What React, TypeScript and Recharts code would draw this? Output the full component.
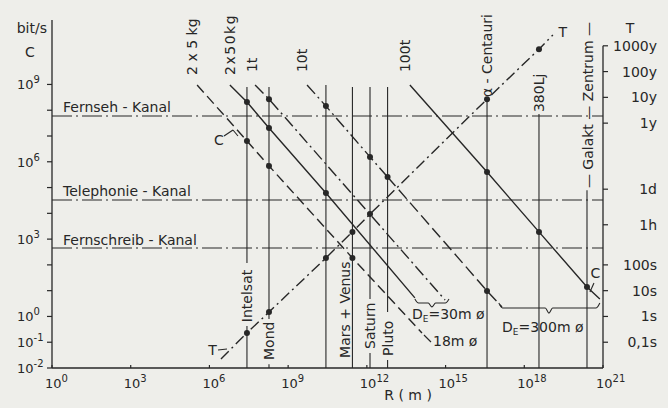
import React from 'react';
import { ComposedChart, Line, Scatter, XAxis, YAxis, ReferenceLine, ReferenceDot } from 'recharts';

const W = 668;
const H = 408;
const FONT = "'DejaVu Sans', sans-serif";
const INK = '#272727';
const BG = '#eeeeea';

// ---- axes (log10 exponents) ----
const xTicks = [0, 3, 6, 9, 12, 15, 18, 21];
const yTicks = [-2, -1, 0, 1, 2, 3, 4, 5, 6, 7, 8, 9];
const yLabeled = [-2, -1, 0, 3, 6, 9];
const tSeconds = [0.1, 1, 10, 100, 3600, 86400, 3.156e7, 3.156e8, 3.156e9, 3.156e10];
const tLabels = ['0,1s', '1s', '10s', '100s', '1h', '1d', '1y', '10y', '100y', '1000y'];
const tTicks = tSeconds.map((s) => Math.log10(s));

// ---- capacity lines C(R): x = log10 R (m), y = log10 C (bit/s) ----
type P = { x: number; y: number; dot?: boolean };
const c2x5kg: P[] = [
  { x: 5.53, y: 8.98 },
  { x: 7.43, y: 6.81, dot: true },
  { x: 8.27, y: 5.84, dot: true },
  { x: 11.45, y: 2.27, dot: true },
  { x: 14.1, y: -0.64 },
];
const c2x50kg: P[] = [
  { x: 6.78, y: 8.98 },
  { x: 7.43, y: 8.32, dot: true },
  { x: 8.27, y: 7.31, dot: true },
  { x: 10.44, y: 4.79, dot: true },
  { x: 13.83, y: 0.72 },
];
const c1t: P[] = [
  { x: 7.74, y: 8.98 },
  { x: 8.27, y: 8.43, dot: true },
  { x: 14.98, y: 0.64 },
];
const c10tUpper: P[] = [
  { x: 9.72, y: 8.98 },
  { x: 10.44, y: 8.16, dot: true },
  { x: 12.12, y: 6.19, dot: true },
  { x: 12.79, y: 5.41, dot: true },
];
const c10tLower: P[] = [
  { x: 12.79, y: 5.41 },
  { x: 16.58, y: 0.99, dot: true },
  { x: 17.15, y: 0.37 },
];
const c100t: P[] = [
  { x: 13.64, y: 8.98 },
  { x: 16.58, y: 5.6, dot: true },
  { x: 18.56, y: 3.28, dot: true },
  { x: 20.39, y: 1.14, dot: true },
  { x: 20.88, y: 0.68 },
];
// transit time T(R) (log10 s)
const tLine: P[] = [
  { x: 6.44, y: -1.65 },
  { x: 7.43, y: -0.64, dot: true },
  { x: 8.27, y: 0.17, dot: true },
  { x: 10.44, y: 2.27, dot: true },
  { x: 11.45, y: 3.28, dot: true },
  { x: 12.12, y: 3.97, dot: true },
  { x: 16.58, y: 8.43, dot: true },
  { x: 18.56, y: 10.37, dot: true },
  { x: 19.09, y: 10.92 },
];

// ---- channels (log10 bit/s) ----
const channelNames = ['Fernseh - Kanal', 'Telephonie - Kanal', 'Fernschreib - Kanal'];
const channelRates = [7.775, 4.517, 2.655];
const channelLabelY = [7.93, 4.672, 2.771];
const channelLabelX = 0.42;

// ---- targets (vertical lines) ----
const targetX = [7.43, 8.27, 10.44, 11.45, 12.12, 12.79, 16.58, 18.56, 20.39];
const targetTop = [8.9, 8.9, 8.98, 8.9, 8.9, 8.9, 8.4, 7.85, 4.9];
const targetGapHi = [2.07, -0.1, null, null, 0.68, 0.17, null, null, null];
const targetGapLo = [-0.37, -1.85, null, null, -1.42, -1.69, null, null, null];

const bottomNames = ['Intelsat', 'Mond', 'Mars + Venus', 'Saturn', 'Pluto'];
const bottomNameX = [7.43, 8.27, 11.17, 12.12, 12.79];
const bottomNameY = [-0.22, -1.69, -1.61, -1.26, -1.53];

const topNames = ['2 x 5 kg', '2x50kg', '1t', '10t', '100t', 'α - Centauri', '380Lj', '— Galakt — Zentrum —'];
const topNameX = [5.34, 6.78, 7.62, 9.53, 13.45, 16.58, 18.56, 20.43];
const topNameY = [9.37, 9.37, 9.48, 9.48, 9.48, 8.51, 7.93, 4.98];
const topNameSpacing = [0, 1.5, 0, 0, 0, 0, 0, 0];

// ---- braces for antenna diameter ----
const braceFrom = [13.83, 17.03];
const braceTo = [15.13, 20.88];
const braceTip = [14.48, 18.94];
const braceTop = [0.68, 0.52];
const braceMid = [0.52, 0.33];
const braceLow = [0.37, 0.13];

const dots = [...c2x5kg, ...c2x50kg, ...c1t, ...c10tUpper, ...c10tLower.slice(1), ...c100t, ...tLine].filter((p) => p.dot);

const braces = braceFrom.map((a, i) => {
  const b = braceTo[i];
  const c = braceTip[i];
  const d = 0.14;
  return [
    { x: a, y: braceTop[i] },
    { x: a + d, y: braceMid[i] },
    { x: c - d, y: braceMid[i] },
    { x: c, y: braceLow[i] },
    { x: c + d, y: braceMid[i] },
    { x: b - d, y: braceMid[i] },
    { x: b, y: braceTop[i] },
  ];
});

const txt = { fill: INK, fontFamily: FONT } as const;

const BottomTick = (p: any) => {
  const v = Math.round(p.payload.value);
  return (
    <g>
      <line x1={p.x} x2={p.x} y1={p.y} y2={p.y - 3} stroke={INK} strokeWidth={1.2} />
      <text x={p.x - 7} y={p.y + 20} fontSize={13} {...txt} textAnchor="start">
        <tspan>10</tspan>
        <tspan dy={-6} fontSize={10}>{v}</tspan>
      </text>
    </g>
  );
};

const LeftTick = (p: any) => {
  const v = Math.round(p.payload.value);
  const show = yLabeled.includes(v);
  return (
    <g>
      <line x1={p.x - 5} x2={p.x} y1={p.y} y2={p.y} stroke={INK} strokeWidth={1.2} />
      {show && (
        <text x={p.x - 35} y={p.y + 5} fontSize={13} {...txt} textAnchor="start">
          <tspan>10</tspan>
          <tspan dy={-6} fontSize={10}>{v}</tspan>
        </text>
      )}
    </g>
  );
};

const RightTick = (p: any) => {
  let idx = 0;
  let best = 1e9;
  tTicks.forEach((t, i) => {
    const d = Math.abs(t - p.payload.value);
    if (d < best) {
      best = d;
      idx = i;
    }
  });
  return (
    <g>
      <line x1={p.x} x2={p.x + 5} y1={p.y} y2={p.y} stroke={INK} strokeWidth={1.2} />
      <text x={p.x + 54} y={p.y + 5} fontSize={14} {...txt} textAnchor="end">
        {tLabels[idx]}
      </text>
    </g>
  );
};

const note = (key: string, x: number, y: number, render: (cx: number, cy: number) => React.ReactElement) => (
  <ReferenceDot
    key={key}
    yAxisId="left"
    x={x}
    y={y}
    r={0}
    ifOverflow="visible"
    shape={(p: any) => render(p.cx, p.cy)}
  />
);

const vText = (text: string, spacing = 0) => (cx: number, cy: number) => (
  <text
    x={cx}
    y={cy}
    transform={`rotate(-90 ${cx} ${cy})`}
    textAnchor="start"
    dominantBaseline="central"
    fontSize={14}
    letterSpacing={spacing}
    {...txt}
  >
    {text}
  </text>
);

const hText = (text: string, anchor: 'start' | 'middle' | 'end' = 'start', size = 14) => (cx: number, cy: number) => (
  <text x={cx} y={cy} textAnchor={anchor} fontSize={size} {...txt}>
    {text}
  </text>
);

const deText = (post: string) => (cx: number, cy: number) => (
  <text x={cx} y={cy} textAnchor="start" fontSize={14} {...txt}>
    <tspan>D</tspan>
    <tspan dy={3} fontSize={9}>E</tspan>
    <tspan dy={-3}>{post}</tspan>
  </text>
);

const seg = (key: string, x1: number, y1: number, x2: number, y2: number, extra: any = {}) => (
  <ReferenceLine
    key={key}
    yAxisId="left"
    segment={[{ x: x1, y: y1 }, { x: x2, y: y2 }]}
    stroke={INK}
    strokeWidth={1.1}
    ifOverflow="visible"
    {...extra}
  />
);

export default function App() {
  const verticals: React.ReactElement[] = [];
  targetX.forEach((x, i) => {
    const hi = targetGapHi[i];
    const lo = targetGapLo[i];
    if (hi === null || lo === null) {
      verticals.push(seg(`v${i}`, x, -2, x, targetTop[i]));
    } else {
      verticals.push(seg(`v${i}a`, x, hi, x, targetTop[i]));
      verticals.push(seg(`v${i}b`, x, -2, x, lo));
    }
  });

  const lineProps = {
    yAxisId: 'left',
    dataKey: 'y',
    type: 'linear' as const,
    stroke: INK,
    strokeWidth: 1.4,
    dot: false,
    activeDot: false,
    isAnimationActive: false,
  };

  return (
    <div style={{ position: 'absolute', left: 0, top: 0, width: W, height: H, background: BG }}>
      <ComposedChart width={W} height={H} margin={{ top: 20, right: 5, bottom: 10, left: 8 }}>
        <XAxis
          type="number"
          dataKey="x"
          domain={[0, 21]}
          ticks={xTicks}
          allowDataOverflow
          interval={0}
          height={30}
          axisLine={{ stroke: INK, strokeWidth: 1.3 }}
          tickLine={false}
          tickSize={0}
          tickMargin={0}
          tick={BottomTick}
        />
        <YAxis
          yAxisId="left"
          type="number"
          domain={[-2, 11.5]}
          ticks={yTicks}
          allowDataOverflow
          interval={0}
          width={44}
          axisLine={{ stroke: INK, strokeWidth: 1.3 }}
          tickLine={false}
          tickSize={0}
          tickMargin={0}
          tick={LeftTick}
        />
        <YAxis
          yAxisId="right"
          orientation="right"
          type="number"
          domain={[-2, 11.5]}
          ticks={tTicks}
          allowDataOverflow
          interval={0}
          width={60}
          axisLine={false}
          tickLine={false}
          tickSize={0}
          tickMargin={0}
          tick={RightTick}
        />

        {/* right axis line (T scale) */}
        {seg('raxis', 21, -2, 21, Math.log10(3.156e10), { strokeWidth: 1.3 })}

        {/* channel lines */}
        {channelRates.map((r, i) => (
          <ReferenceLine
            key={`ch${i}`}
            yAxisId="left"
            y={r}
            stroke={INK}
            strokeWidth={1.1}
            strokeDasharray="20 4 2 4"
          />
        ))}

        {verticals}

        <Line {...lineProps} data={c2x5kg} strokeDasharray="10 5" />
        <Line {...lineProps} data={c2x50kg} />
        <Line {...lineProps} data={c1t} strokeDasharray="12 4 2 4" />
        <Line {...lineProps} data={c10tUpper} strokeDasharray="12 4 2 4" />
        <Line {...lineProps} data={c10tLower} strokeDasharray="12 5" />
        <Line {...lineProps} data={c100t} />
        <Line {...lineProps} data={tLine} strokeDasharray="11 4 2 4" />
        {braces.map((b, i) => (
          <Line key={`br${i}`} {...lineProps} data={b} type="monotone" strokeWidth={1.1} />
        ))}

        <Scatter
          yAxisId="left"
          data={dots}
          dataKey="y"
          fill={INK}
          isAnimationActive={false}
          shape={(p: any) => <circle cx={p.cx} cy={p.cy} r={3} fill={INK} />}
        />

        {/* leaders */}
        {seg('lc1', 6.555, 7.0, 6.898, 7.232)}
        {seg('lc2', 6.898, 7.232, 7.088, 7.0)}
        {seg('lt', 6.326, -1.302, 6.669, -1.263)}
        {seg('lcr', 20.503, 0.948, 20.655, 1.297)}
        {seg('l18', 14.177, -0.72, 14.444, -0.991)}

        {/* labels */}
        {channelNames.map((n, i) => note(`cn${i}`, channelLabelX, channelLabelY[i], hText(n, 'start', 14)))}
        {bottomNames.map((n, i) => note(`bn${i}`, bottomNameX[i], bottomNameY[i], vText(n)))}
        {topNames.map((n, i) => note(`tn${i}`, topNameX[i], topNameY[i], vText(n, topNameSpacing[i])))}
        {note('c1', 6.36, 6.65, hText('C', 'middle'))}
        {note('t1', 6.12, -1.5, hText('T', 'middle'))}
        {note('t2', 19.47, 10.84, hText('T', 'middle'))}
        {note('c2', 20.71, 1.49, hText('C', 'middle'))}
        {note('m18', 14.52, -1.15, hText('18m  ø'))}
        {note('d30', 13.72, -0.1, deText('=30m ø'))}
        {note('d300', 17.15, -0.6, deText('=300m ø'))}
        {note('ax1', -0.19, 11.0, hText('bit/s', 'end'))}
        {note('ax2', -0.84, 10.06, hText('C', 'middle'))}
        {note('ax3', 22.03, 11.0, hText('T', 'middle'))}
        {note('ax4', 13.57, -3.24, hText('R ( m )', 'middle'))}
      </ComposedChart>
    </div>
  );
}
